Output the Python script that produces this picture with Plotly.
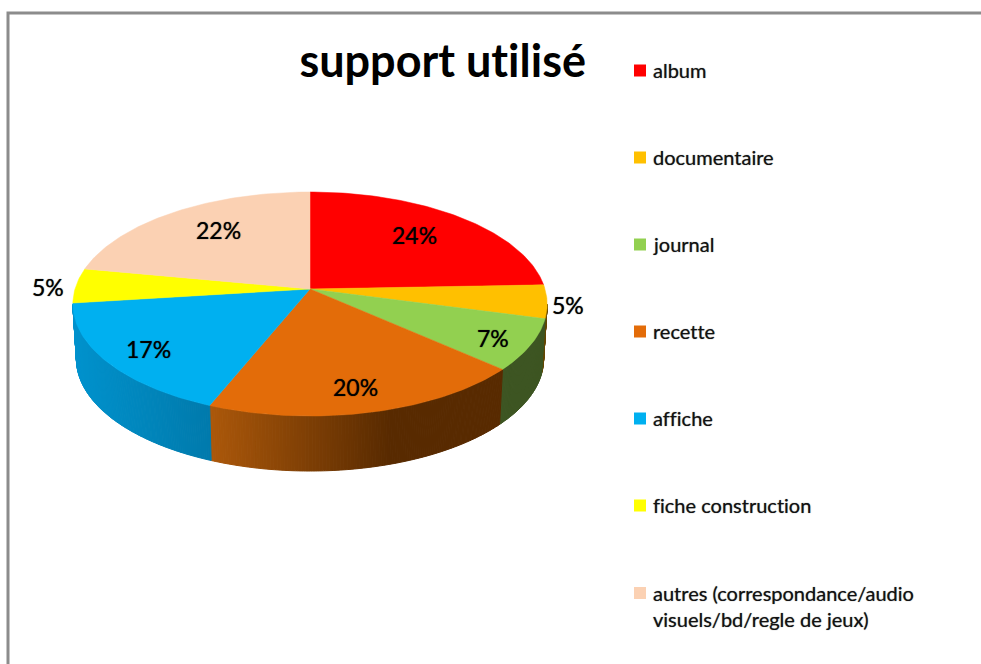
import math
import plotly.graph_objects as go

# Chart data
categories = ['album', 'documentaire', 'journal', 'recette', 'affiche', 'fiche construction',
              'autres (correspondance/audio<br>visuels/bd/regle de jeux)']
values = [24.4, 4.8, 7.4, 19.5, 16.9, 5, 22]
top_colors = ['#ff0000', '#ffc000', '#92d050', '#e36c09', '#00b0f0', '#ffff00', '#fbd1b3']

# Colours of the rim of each slice, (colour at the left, colour at the right)
side_colors = [((150, 0, 0), (150, 0, 0)),
               ((100, 70, 0), (100, 70, 0)),
               ((61, 85, 34), (61, 85, 34)),
               ((172, 88, 10), (88, 42, 0)),
               ((0, 146, 205), (0, 122, 172)),
               ((150, 150, 0), (150, 150, 0)),
               ((160, 130, 110), (160, 130, 110))]

# Where the pie sits in the page, and its perspective
cx = 310
cy = 289
depth = 55
a = 110
b = 235
k = 0.134
bottom_scale = 0.985

# Text positions
label_x = [414, 568, 493, 355, 148, 48, 218]
label_y = [235, 305, 338, 387, 349, 287, 230]
legend_x = 640
legend_text_x = 651
legend_y = [70, 157, 244, 331, 418, 505, 606]
marker_y = [70.5, 157.5, 244.5, 331.5, 418.5, 505.5, 593]


# Point of the top face for an angle in degrees, clockwise from 12 o'clock
def top_point(angle):
    u = math.sin(math.radians(angle))
    v = math.cos(math.radians(angle))
    d = 1 + k * v
    return cx + b * u / d, cy - a * v / d


# Same point on the lower edge of the rim
def bottom_point(angle):
    x, y = top_point(angle)
    return cx + (x - cx) * bottom_scale, y + depth


def mix(left, right, t):
    t = max(0, min(1, t))
    r, g, bl = [round(left[i] + (right[i] - left[i]) * t) for i in range(3)]
    return 'rgb(%d,%d,%d)' % (r, g, bl)


fig = go.Figure()

# Rim first, one thin strip per step so it can shade across the slice
rim_start = 97.7
rim_end = 262.3
start = 0
for i, value in enumerate(values):
    end = start + value * 3.6
    lo = max(start, rim_start)
    hi = min(end, rim_end)
    if hi > lo:
        steps = max(1, int((hi - lo) / 0.5))
        x_left = min(top_point(lo)[0], top_point(hi)[0])
        x_right = max(top_point(lo)[0], top_point(hi)[0])
        for s in range(steps):
            a0 = lo + (hi - lo) * s / steps
            a1 = lo + (hi - lo) * (s + 1) / steps
            p0, p1, p2, p3 = top_point(a0), top_point(a1), bottom_point(a1), bottom_point(a0)
            t = (p0[0] - x_left) / max(1, x_right - x_left)
            if i == 3:
                t = t / 0.62
            color = mix(side_colors[i][0], side_colors[i][1], t)
            fig.add_trace(go.Scatter(x=[p0[0], p1[0], p2[0], p3[0], p0[0]],
                                     y=[p0[1], p1[1], p2[1], p3[1], p0[1]],
                                     mode='lines', fill='toself', fillcolor=color,
                                     line=dict(color=color, width=1), hoverinfo='skip'))
    start = end

# Top face
start = 0
for i, value in enumerate(values):
    end = start + value * 3.6
    steps = max(2, int(end - start))
    xs = [cx]
    ys = [cy]
    for s in range(steps + 1):
        x, y = top_point(start + (end - start) * s / steps)
        xs.append(x)
        ys.append(y)
    xs.append(cx)
    ys.append(cy)
    fig.add_trace(go.Scatter(x=xs, y=ys, mode='lines', fill='toself', fillcolor=top_colors[i],
                             line=dict(color=top_colors[i], width=0.5), name=categories[i],
                             hoverinfo='skip'))
    start = end

# Legend squares
fig.add_trace(go.Scatter(x=[legend_x] * len(categories), y=marker_y, mode='markers',
                         marker=dict(symbol='square', size=12, color=top_colors),
                         hoverinfo='skip'))

# Percent labels
for i, value in enumerate(values):
    fig.add_annotation(x=label_x[i], y=label_y[i], text='%d%%' % round(value), showarrow=False,
                       font=dict(family='Lato', size=23, color='#000000',
                                 shadow='0 0 1px rgba(0,0,0,0.8)'))

# Legend text
for i, name in enumerate(categories):
    fig.add_annotation(x=legend_text_x, y=legend_y[i], text=name, showarrow=False,
                       xanchor='left', align='left',
                       font=dict(family='Lato', size=20, color='#111111',
                                 shadow='0 0 1px rgba(0,0,0,0.6)'))

# Title
fig.add_annotation(x=442, y=60, text='<b>support utilisé</b>', showarrow=False,
                   font=dict(family='Lato', size=45, color='#000000'))

# Frame of the chart, cut by the edge of the picture
fig.add_shape(type='path', path='M 8 664 L 8 13 L 981 13', line=dict(color='#8c8c8c', width=3))

fig.update_xaxes(visible=False, range=[0, 981], fixedrange=True)
fig.update_yaxes(visible=False, range=[664, 0], fixedrange=True)
fig.update_layout(width=981, height=664, margin=dict(l=0, r=0, t=0, b=0), showlegend=False,
                  paper_bgcolor='#ffffff', plot_bgcolor='#ffffff')

# Body margin off, and no ligatures in the texts (the original has none)
page_fix = ("document.body.style.margin='0';document.body.style.overflow='hidden';"
            "var st=document.createElement('style');"
            "st.textContent='text,tspan{font-variant-ligatures:none !important;"
            "font-feature-settings:\"liga\" 0,\"clig\" 0 !important}';"
            "document.head.appendChild(st);")
fig.write_html('out.html', config={'displayModeBar': False}, post_script=page_fix)
